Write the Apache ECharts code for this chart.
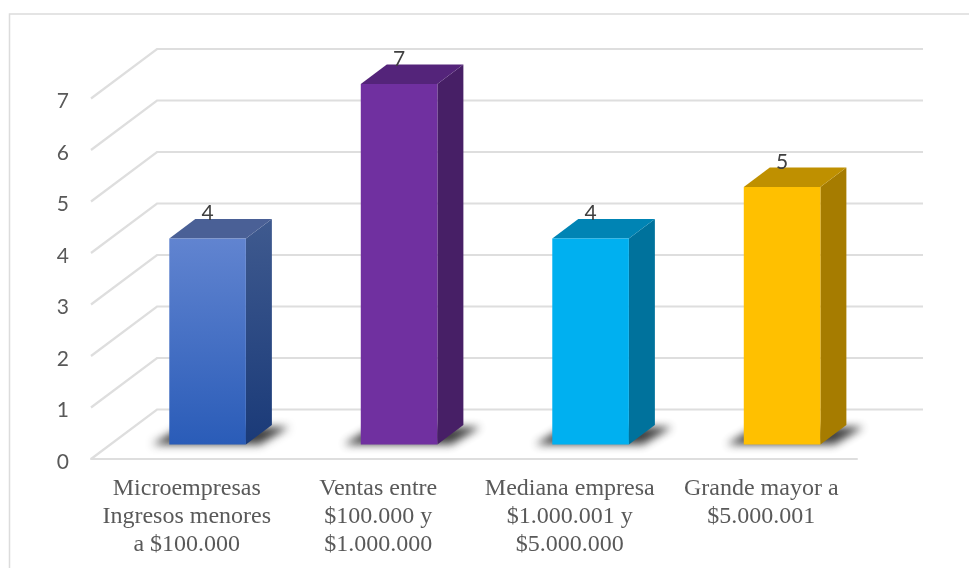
<!DOCTYPE html>
<html>
<head>
<meta charset="utf-8">
<style>html,body{margin:0;padding:0;background:#fff;overflow:hidden}#chart{width:969px;height:568px}</style>
<script src="https://cdn.jsdelivr.net/npm/echarts@6/dist/echarts.min.js"></script>
</head>
<body>
<div id="chart"></div>
<script>
const categories = [
  'Microempresas\nIngresos menores\na $100.000',
  'Ventas entre\n$100.000 y\n$1.000.000',
  'Mediana empresa\n$1.000.001 y\n$5.000.000',
  'Grande mayor a\n$5.000.001'
];
const empresas = [4, 7, 4, 5];
const yTicks = [0, 1, 2, 3, 4, 5, 6, 7];

// Front, side and top shades of each column
const frontTop = ['#6184d0', '#7030a0', '#00b0f0', '#ffc000'];
const frontBottom = ['#2a5cb8', '#7030a0', '#00b0f0', '#ffc000'];
const sideTop = ['#3f5a8f', '#471f66', '#00729c', '#a67c00'];
const sideBottom = ['#1a3a78', '#471f66', '#00729c', '#a67c00'];
const topFace = ['#4a6096', '#54247a', '#0084b4', '#bf9000'];

// Oblique projection of the box: full depth of the floor and the slice taken by a column
const DEPTH_X = 66, DEPTH_Y = 49.5;
const NEAR = 14.5 / 49.5, FAR = 34 / 49.5;
const BAR_RATIO = 0.4, BAR_SHIFT = 1.5;
const GRID_COLOR = '#dedede';
// The floor shadow is cast from a shape parked off-canvas so that only its blur shows
const SHADOW_PARK = 3000;

function renderWall(params, api) {
  const cs = params.coordSys;
  const y = api.coord([0, api.value(0)])[1];
  return {
    type: 'polyline',
    silent: true,
    shape: { points: [
      [cs.x, y],
      [cs.x + DEPTH_X, y - DEPTH_Y],
      [cs.x + cs.width + DEPTH_X, y - DEPTH_Y]
    ] },
    style: { fill: null, stroke: GRID_COLOR, lineWidth: 2.2 }
  };
}

function renderBar(params, api) {
  const i = params.dataIndex;
  const top = api.coord([api.value(0), api.value(1)]);
  const base = api.coord([api.value(0), 0]);
  const w = api.size([1, 0])[0] * BAR_RATIO;
  const nx = DEPTH_X * NEAR, ny = DEPTH_Y * NEAR;
  const dx = DEPTH_X * (FAR - NEAR), dy = DEPTH_Y * (FAR - NEAR);
  const x0 = top[0] + nx + BAR_SHIFT - w / 2, x1 = x0 + w;
  const yT = top[1] - ny, yB = base[1] - ny;
  const vertical = (a, b) => ({
    type: 'linear', x: 0, y: 0, x2: 0, y2: 1,
    colorStops: [{ offset: 0, color: a }, { offset: 1, color: b }]
  });
  return {
    type: 'group',
    children: [
      {
        type: 'polygon',
        shape: { points: [
          [x0 - 17 - SHADOW_PARK, yB],
          [x0 + 12 - SHADOW_PARK, yB - dy + 2],
          [x1 + dx + 17 - SHADOW_PARK, yB - dy + 2],
          [x1 + 14 - SHADOW_PARK, yB]
        ] },
        style: {
          fill: '#000',
          shadowBlur: 9,
          shadowOffsetX: SHADOW_PARK,
          shadowColor: 'rgba(30,30,30,0.85)'
        }
      },
      {
        type: 'polygon',
        shape: { points: [[x1, yT], [x1 + dx, yT - dy], [x1 + dx, yB - dy], [x1, yB]] },
        style: { fill: vertical(sideTop[i], sideBottom[i]) }
      },
      {
        type: 'polygon',
        shape: { points: [[x0, yT], [x0 + dx, yT - dy], [x1 + dx, yT - dy], [x1, yT]] },
        style: { fill: topFace[i] }
      },
      {
        type: 'rect',
        shape: { x: x0, y: yT, width: w, height: yB - yT },
        style: { fill: vertical(frontTop[i], frontBottom[i]) }
      },
      {
        type: 'text',
        style: {
          text: String(api.value(1)),
          x: x0 + w / 2,
          y: yT - dy + 5,
          align: 'center',
          verticalAlign: 'bottom',
          fill: '#404040',
          font: '21px Lato'
        }
      }
    ]
  };
}

const chart = echarts.init(document.getElementById('chart'), null, { renderer: 'canvas' });
chart.setOption({
  animation: false,
  backgroundColor: '#fff',
  graphic: [{
    type: 'rect',
    silent: true,
    z: -1,
    shape: { x: 9.5, y: 14, width: 980, height: 580 },
    style: { fill: null, stroke: '#dcdcdc', lineWidth: 1.5 }
  }],
  grid: { left: 91, right: 112, top: 98.5, bottom: 109 },
  xAxis: {
    type: 'category',
    data: categories,
    axisTick: { show: false },
    axisLine: { lineStyle: { color: GRID_COLOR, width: 2 } },
    axisLabel: {
      interval: 0,
      margin: 16,
      color: '#595959',
      fontFamily: 'Liberation Serif',
      fontSize: 24,
      lineHeight: 28,
      verticalAlign: 'top'
    }
  },
  yAxis: {
    type: 'value',
    min: yTicks[0],
    max: yTicks[yTicks.length - 1],
    interval: 1,
    axisLine: { show: false },
    axisTick: { show: false },
    splitLine: { show: false },
    axisLabel: {
      margin: 22,
      verticalAlign: 'top',
      lineHeight: 6,
      color: '#595959',
      fontFamily: 'Lato',
      fontSize: 21
    }
  },
  series: [
    {
      name: 'Paredes',
      type: 'custom',
      coordinateSystem: 'cartesian2d',
      renderItem: renderWall,
      encode: { y: 0 },
      data: yTicks.map(v => [v]),
      clip: false,
      silent: true,
      z: 1
    },
    {
      name: 'Empresas',
      type: 'custom',
      coordinateSystem: 'cartesian2d',
      renderItem: renderBar,
      encode: { x: 0, y: 1 },
      data: empresas.map((v, i) => [i, v]),
      clip: false,
      z: 2
    }
  ]
});
</script>
</body>
</html>
